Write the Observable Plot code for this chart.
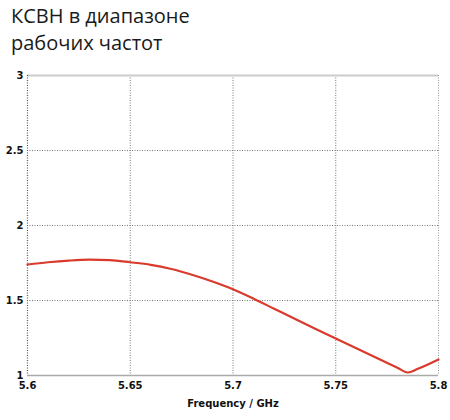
<!DOCTYPE html>
<html><head><meta charset="utf-8">
<script src="https://cdn.jsdelivr.net/npm/d3@7"></script>
<script src="https://cdn.jsdelivr.net/npm/@observablehq/plot@0.6"></script>
<style>
body{margin:0;background:#fff;}
#title{font-family:"Open Sans","Noto Sans",sans-serif;font-size:20px;line-height:27px;color:#1a1a1a;padding:2px 0 0 11px;height:57px;box-sizing:border-box;}
</style></head><body>
<div id="title">КСВН в диапазоне<br>рабочих частот</div>
<div id="chart"></div>
<script>
const freq = [5.6,5.61,5.62,5.63,5.64,5.65,5.66,5.67,5.68,5.69,5.7,5.71,5.72,5.73,5.74,5.75,5.76,5.77,5.78,5.785,5.79,5.8];
const vswr = [1.74,1.755,1.766,1.772,1.769,1.755,1.738,1.71,1.672,1.627,1.575,1.512,1.445,1.378,1.312,1.247,1.182,1.117,1.052,1.02,1.045,1.107];
const xTicks = [5.6,5.65,5.7,5.75,5.8];
const yTicks = [1,1.5,2,2.5,3];
const xLabel = "Frequency / GHz";
const data = freq.map((f,i)=>({f, v: vswr[i]}));
const chart = Plot.plot({
  width: 450, height: 358,
  marginLeft: 27, marginRight: 12, marginTop: 18, marginBottom: 40,
  style: {fontFamily: "DejaVu Sans, Verdana, sans-serif", fontSize: "10px", fontWeight: "bold", color: "#111"},
  x: {domain: [5.6, 5.8], ticks: xTicks, tickSize: 0, tickPadding: 6, tickFormat: d => String(d), label: xLabel, labelAnchor: "center", labelOffset: 31, labelArrow: "none"},
  y: {domain: [1, 3], ticks: yTicks, tickSize: 0, tickPadding: 4, tickFormat: d => String(d), label: null},
  marks: [
    Plot.ruleX(xTicks.slice(1,-1), {stroke: "#777", strokeDasharray: "1,1.5", strokeWidth: 1}),
    Plot.ruleY(yTicks.slice(1,-1), {stroke: "#777", strokeDasharray: "1,1.5", strokeWidth: 1}),
    Plot.ruleY([3], {stroke: "#ccc", strokeWidth: 2}),
    Plot.ruleY([1], {stroke: "#aaa", strokeWidth: 1.5}),
    Plot.ruleX([5.6], {stroke: "#555", strokeDasharray: "1,1.5", strokeWidth: 1.2}),
    Plot.ruleX([5.8], {stroke: "#999", strokeDasharray: "1,1.5", strokeWidth: 1}),
    Plot.line(data, {x: "f", y: "v", stroke: "#d93a2b", strokeWidth: 2.2, curve: "monotone-x"})
  ]
});
document.getElementById("chart").appendChild(chart);
</script>
</body></html>
